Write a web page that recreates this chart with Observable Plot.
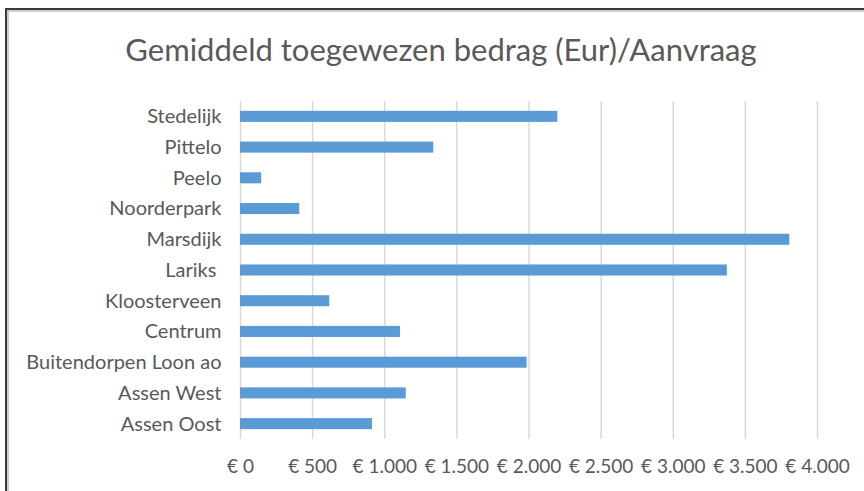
<!DOCTYPE html>
<html><head><meta charset="utf-8">
<script src="https://cdn.jsdelivr.net/npm/d3@7"></script>
<script src="https://cdn.jsdelivr.net/npm/@observablehq/plot@0.6"></script>
<style>
html,body{margin:0;padding:0;background:#fff;overflow:hidden}
#wrap{position:relative;width:864px;height:491px;font-family:Lato,sans-serif;overflow:hidden}
#frame{position:absolute;left:5px;top:8px;width:900px;height:500px;border-left:2px solid #3a3a3a;border-top:2px solid #3a3a3a;box-shadow:inset 2px 2px 0 #cfcfcf}
#title{position:absolute;left:0;width:882px;top:31px;text-align:center;font-size:31px;color:#595959;line-height:36px;white-space:nowrap}
#chart{position:absolute;left:0;top:90px}
svg text{white-space:pre}
</style></head><body>
<div id="wrap"><div id="frame"></div><div id="title">Gemiddeld toegewezen bedrag (Eur)/Aanvraag</div><div id="chart"></div></div>
<script>
const categories = ["Stedelijk","Pittelo","Peelo","Noorderpark","Marsdijk","Lariks ","Kloosterveen","Centrum","Buitendorpen Loon ao","Assen West","Assen Oost"];
const values = [2200,1340,147,411,3808,3375,619,1109,1987,1149,915];
const xTicks = [0,500,1000,1500,2000,2500,3000,3500,4000];

const nl = d3.formatLocale({decimal:",",thousands:".",grouping:[3],currency:["€ ",""]});
const fmt = nl.format("$,.0f");
const data = categories.map((c,i)=>({cat:c,val:values[i]}));

const chart = Plot.plot({
  width:864, height:401,
  marginLeft:240, marginRight:47, marginTop:11, marginBottom:52,
  style:{fontFamily:"Lato, sans-serif", fontSize:"20px", color:"#595959", background:"transparent"},
  x:{domain:[0,4000]},
  y:{domain:categories, paddingInner:0.64, paddingOuter:0.32, round:false},
  marks:[
    Plot.gridX(xTicks,{stroke:"#d9d9d9",strokeOpacity:1,strokeWidth:1.5}),
    Plot.barX(data,{x:"val",y:"cat",fill:"#5b9bd5"}),
    Plot.axisX({ticks:xTicks,tickFormat:fmt,tickSize:0,tickPadding:20,label:null,fill:"#595959",fontSize:19}),
    Plot.axisY({tickSize:0,tickPadding:19,label:null,fill:"#595959",fontSize:20})
  ]
});
document.getElementById("chart").appendChild(chart);
</script>
</body></html>
